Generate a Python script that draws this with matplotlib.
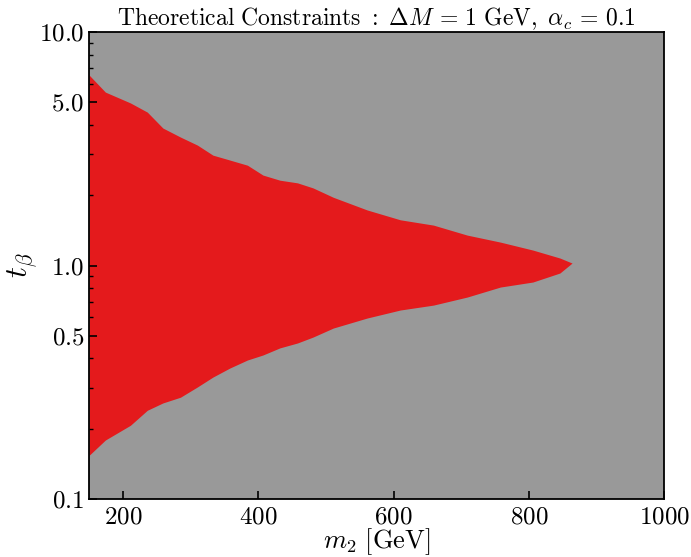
import matplotlib
matplotlib.use("Agg")
import matplotlib.pyplot as plt
import numpy as np
from matplotlib.ticker import FixedLocator, FixedFormatter, LogLocator, NullFormatter

plt.rcParams["mathtext.fontset"] = "cm"
plt.rcParams["font.family"] = "serif"
plt.rcParams["font.serif"] = ["cmr10", "DejaVu Serif"]

# edge of the allowed region (m2 in GeV, upper / lower t_beta)
m2 = [150, 174, 211, 236, 259, 285, 310, 333, 358, 384, 407, 432, 458, 481,
      511, 561, 610, 659, 709, 758, 806, 846, 864]
tb_upper = [6.54, 5.53, 4.97, 4.54, 3.88, 3.55, 3.28, 2.97, 2.83, 2.69, 2.44,
            2.32, 2.26, 2.15, 1.96, 1.73, 1.57, 1.49, 1.35, 1.26, 1.165, 1.077, 1.025]
tb_lower = [0.154, 0.179, 0.207, 0.240, 0.258, 0.273, 0.302, 0.333, 0.364, 0.394,
            0.414, 0.444, 0.466, 0.494, 0.540, 0.596, 0.645, 0.677, 0.733, 0.809,
            0.850, 0.929, 1.025]

x_ticks = [200, 400, 600, 800, 1000]
y_ticks = [0.1, 0.5, 1.0, 5.0, 10.0]

GRAY = "#999999"
RED = "#e41a1c"

fig = plt.figure(figsize=(6.91, 5.57), dpi=100)
ax = fig.add_axes([0.129, 0.104, 0.832, 0.8385])

ax.set_facecolor(GRAY)
ax.fill_between(m2, tb_lower, tb_upper, color=RED, lw=0)

ax.set_xlim(150, 1000)
ax.set_yscale("log")
ax.set_ylim(0.1, 10)

ax.xaxis.set_major_locator(FixedLocator(x_ticks))
ax.xaxis.set_major_formatter(FixedFormatter([f"${v}$" for v in x_ticks]))
ax.yaxis.set_major_locator(FixedLocator(y_ticks))
ax.yaxis.set_major_formatter(FixedFormatter([f"${v:.1f}$" for v in y_ticks]))
ax.yaxis.set_minor_locator(LogLocator(base=10, subs=np.arange(2, 10)))
ax.yaxis.set_minor_formatter(NullFormatter())

ax.tick_params(axis="both", which="major", direction="in", length=6, width=1.2,
               labelsize=18, top=False, right=False)
ax.tick_params(axis="y", which="minor", direction="in", length=3, width=1.0)
ax.tick_params(axis="x", pad=5)
for sp in ax.spines.values():
    sp.set_linewidth(1.3)

ax.set_xlabel(r"$m_2\ [\mathrm{GeV}]$", fontsize=19)
ax.xaxis.set_label_coords(0.5, -0.058)
ax.set_ylabel(r"$t_\beta$", fontsize=22)
ax.yaxis.set_label_coords(-0.088, 0.5)
ax.set_title(r"$\mathrm{Theoretical\ Constraints}\ :\ \Delta M\,=\,1\ \mathrm{GeV},\ \alpha_c\,=\,0.1$",
             fontsize=17, pad=3)

fig.savefig("out.png", dpi=100)
